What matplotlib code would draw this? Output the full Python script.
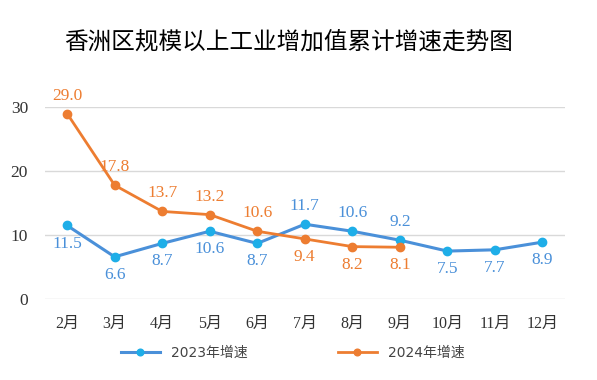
import matplotlib.pyplot as plt

months = ['2月', '3月', '4月', '5月', '6月', '7月', '8月', '9月', '10月', '11月', '12月']
growth_2023 = [11.5, 6.6, 8.7, 10.6, 8.7, 11.7, 10.6, 9.2, 7.5, 7.7, 8.9]
growth_2024 = [29.0, 17.8, 13.7, 13.2, 10.6, 9.4, 8.2, 8.1]
# label above (+1) or below (-1) the point
pos_2023 = [-1, -1, -1, -1, -1, 1, 1, 1, -1, -1, -1]
pos_2024 = [1, 1, 1, 1, 1, -1, -1, -1]

blue = '#4a90d9'
blue_mk = '#1eaee8'
orange = '#ed7d31'
serif = ['Liberation Serif', 'Noto Sans CJK SC']

fig = plt.figure(figsize=(5.97, 3.8), dpi=100)
ax = fig.add_axes([0.075, 0.213, 0.871, 0.505])

x23 = list(range(len(growth_2023)))
x24 = list(range(len(growth_2024)))
ax.plot(x23, growth_2023, color=blue, lw=2.2, marker='o', ms=6,
        mfc=blue_mk, mec=blue_mk, label='2023年增速', clip_on=False, zorder=3)
ax.plot(x24, growth_2024, color=orange, lw=2.0, marker='o', ms=6,
        mfc=orange, mec=orange, label='2024年增速', clip_on=False, zorder=3)

for x, v, p in zip(x23, growth_2023, pos_2023):
    ax.annotate('%.1f' % v, (x, v), xytext=(0, 13 * p), textcoords='offset points',
                ha='center', va='center', color=blue, fontsize=12.5, family=serif)
for x, v, p in zip(x24, growth_2024, pos_2024):
    ax.annotate('%.1f' % v, (x, v), xytext=(0, 13 * p), textcoords='offset points',
                ha='center', va='center', color=orange, fontsize=12.5, family=serif)

ax.set_xlim(-0.47, 10.47)
ax.set_ylim(0, 30)
ax.set_yticks([0, 10, 20, 30])
ax.set_xticks(x23)
ax.set_xticklabels(months, family=serif, fontsize=11.5, color='#333333')
for t in ax.get_yticklabels():
    t.set_family(serif)
    t.set_fontsize(12.5)
    t.set_color('#333333')
ax.tick_params(length=0, pad=12)
ax.tick_params(axis='y', pad=12)
ax.grid(axis='y', color='#d9d9d9', lw=1)
ax.set_axisbelow(True)
for s in ax.spines.values():
    s.set_visible(False)

fig.text(0.483, 0.89, '香洲区规模以上工业增加值累计增速走势图', ha='center', va='center',
         fontsize=17, family=['Noto Sans CJK SC'])

fig.legend(loc='center', bbox_to_anchor=(0.49, 0.072), ncol=2, frameon=False,
           prop={'family': ['DejaVu Sans', 'Noto Sans CJK SC'], 'size': 10},
           handlelength=2.8, markerscale=0.8, columnspacing=6.5, labelcolor='#444444')

fig.savefig('out.png', dpi=100)
